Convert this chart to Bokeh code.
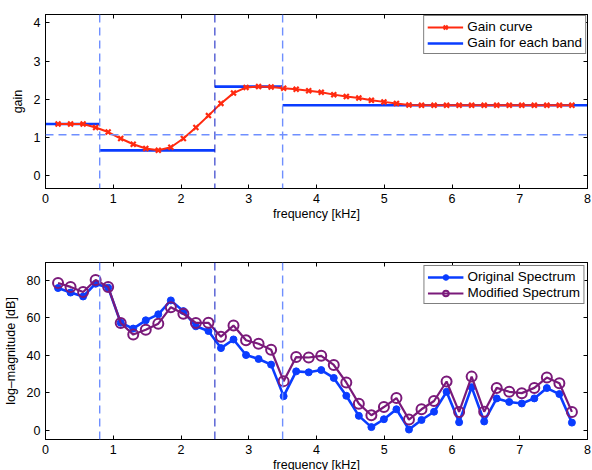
from bokeh.plotting import figure
from bokeh.layouts import column
from bokeh.models import Span, Range1d, LinearAxis, FixedTicker, Legend, LegendItem, ColumnDataSource
from bokeh.embed import file_html
from bokeh.resources import INLINE

# ---------------- data ----------------
freq_khz = [0.185, 0.37, 0.555, 0.74, 0.925, 1.11, 1.295, 1.48, 1.665, 1.85,
            2.035, 2.22, 2.405, 2.59, 2.775, 2.96, 3.145, 3.33, 3.515, 3.7,
            3.885, 4.07, 4.255, 4.44, 4.625, 4.81, 4.995, 5.18, 5.365, 5.55,
            5.735, 5.92, 6.105, 6.29, 6.475, 6.66, 6.845, 7.03, 7.215, 7.4,
            7.585, 7.77]

gain_curve = [1.35, 1.35, 1.35, 1.26, 1.14, 0.97, 0.82, 0.71, 0.66, 0.74,
              0.97, 1.26, 1.57, 1.89, 2.16, 2.31, 2.33, 2.32, 2.29, 2.26,
              2.22, 2.18, 2.12, 2.07, 2.03, 1.97, 1.93, 1.89, 1.85, 1.84,
              1.84, 1.84, 1.84, 1.84, 1.84, 1.84, 1.84, 1.84, 1.84, 1.84,
              1.84, 1.84]

band_start = [0.0, 0.8, 2.5, 3.5]
band_end = [0.8, 2.5, 3.5, 8.0]
band_gain = [1.35, 0.66, 2.33, 1.84]
band_edges_light = [0.8, 3.5]
band_edge_dark = [2.5]
mean_gain = [1.07]

original_db = [75.9, 73.5, 71.4, 78.2, 76.1, 57.4, 54.3, 58.7, 61.9, 69.3,
               63.6, 55.5, 53.0, 43.9, 48.5, 40.2, 38.1, 35.1, 18.3, 31.5,
               31.0, 32.2, 28.0, 18.5, 7.8, 1.8, 6.0, 11.3, 0.5, 5.6,
               10.0, 20.6, 4.4, 23.1, 4.8, 17.1, 15.2, 14.4, 17.1, 22.6,
               19.4, 4.2]

modified_db = [78.6, 76.5, 73.8, 80.2, 76.5, 57.3, 51.1, 53.7, 56.9, 65.7,
               62.2, 57.3, 57.4, 50.0, 55.9, 48.1, 46.2, 43.0, 26.3, 39.1,
               38.9, 39.8, 34.9, 25.6, 14.3, 8.1, 12.5, 17.3, 5.8, 11.3,
               15.7, 26.1, 9.9, 28.7, 10.0, 22.7, 20.6, 19.9, 22.7, 28.2,
               25.2, 9.9]

x_ticks = [0, 1, 2, 3, 4, 5, 6, 7, 8]
gain_ticks = [0, 1, 2, 3, 4]
db_ticks = [0, 20, 40, 60, 80]

FONT = "Liberation Sans"
RED = "#ff2a10"
BLUE = "#0a3cff"
PURPLE = "#7a1a7a"
LIGHT = "#6f8fff"
DARK = "#0a18c0"


def style_axes(p, yticks):
    for ax in p.xaxis + p.yaxis:
        ax.major_label_text_font = FONT
        ax.major_label_text_font_size = "12.5px"
        ax.major_label_text_color = "black"
        ax.axis_label_text_font = FONT
        ax.axis_label_text_font_size = "12.5px"
        ax.axis_label_text_font_style = "normal"
        ax.axis_label_text_color = "black"
        ax.major_tick_in = 4
        ax.major_tick_out = 0
        ax.minor_tick_line_color = None
        ax.axis_line_color = "black"
        ax.major_tick_line_color = "black"
    p.xaxis.ticker = FixedTicker(ticks=x_ticks)
    p.yaxis.ticker = FixedTicker(ticks=yticks)
    p.xaxis.major_label_standoff = 5
    p.yaxis.major_label_standoff = 5
    p.xaxis.axis_label_standoff = 1
    p.yaxis.axis_label_standoff = 6
    # box ticks on right and top, labels not drawn
    ra = LinearAxis(ticker=FixedTicker(ticks=yticks), major_label_text_font_size="1px",
                    major_label_text_color=None,
                    major_tick_in=4, major_tick_out=0, minor_tick_line_color=None,
                    major_label_standoff=0, axis_line_color="black")
    ta = LinearAxis(ticker=FixedTicker(ticks=x_ticks), major_label_text_font_size="1px",
                    major_label_text_color=None,
                    major_tick_in=4, major_tick_out=0, minor_tick_line_color=None,
                    major_label_standoff=0, axis_line_color="black")
    p.add_layout(ra, "right")
    p.add_layout(ta, "above")
    p.xgrid.visible = False
    p.ygrid.visible = False
    p.outline_line_color = "black"
    p.background_fill_color = "white"
    p.border_fill_color = "white"


# ---------------- top: gain ----------------
p1 = figure(frame_width=542, frame_height=174, output_backend="svg", toolbar_location=None,
            x_range=Range1d(0, 8), y_range=Range1d(-0.34, 4.22),
            min_border_left=44, min_border_right=6, min_border_top=14, min_border_bottom=52)
p1.xaxis.axis_label = "frequency [kHz]"
p1.yaxis.axis_label = "gain"
style_axes(p1, gain_ticks)

for xe in band_edges_light:
    p1.add_layout(Span(location=xe, dimension="height", line_color=LIGHT, line_dash="8 5", line_width=1.4))
for xe in band_edge_dark:
    p1.add_layout(Span(location=xe, dimension="height", line_color=DARK, line_dash="8 5", line_width=1))
for yv in mean_gain:
    p1.add_layout(Span(location=yv, dimension="width", line_color=LIGHT, line_dash="8 5", line_width=1.4))

bsrc = ColumnDataSource(dict(x0=band_start, x1=band_end, y=band_gain))
rb = p1.segment(x0="x0", y0="y", x1="x1", y1="y", source=bsrc, line_color=BLUE, line_width=2.6)

gsrc = ColumnDataSource(dict(x=freq_khz, y=gain_curve))
rgl = p1.line("x", "y", source=gsrc, line_color=RED, line_width=2)
rgm = p1.scatter("x", "y", source=gsrc, marker="x", size=7, line_color=RED, line_width=2.2)

leg1 = Legend(items=[LegendItem(label="Gain curve", renderers=[rgl, rgm]),
                     LegendItem(label="Gain for each band", renderers=[rb])],
              location="top_right")
p1.add_layout(leg1, "center")

# ---------------- bottom: spectrum ----------------
p2 = figure(frame_width=542, frame_height=177, output_backend="svg", toolbar_location=None,
            x_range=Range1d(0, 8), y_range=Range1d(-4.8, 89.5),
            min_border_left=44, min_border_right=6, min_border_top=22, min_border_bottom=31)
p2.xaxis.axis_label = "frequency [kHz]"
p2.yaxis.axis_label = "log\u2013magnitude [dB]"
style_axes(p2, db_ticks)

for xe in band_edges_light:
    p2.add_layout(Span(location=xe, dimension="height", line_color=LIGHT, line_dash="8 5", line_width=1.4))
for xe in band_edge_dark:
    p2.add_layout(Span(location=xe, dimension="height", line_color=DARK, line_dash="8 5", line_width=1))

ssrc = ColumnDataSource(dict(x=freq_khz, o=original_db, m=modified_db))
rol = p2.line("x", "o", source=ssrc, line_color=BLUE, line_width=2.6)
rom = p2.scatter("x", "o", source=ssrc, marker="circle", size=7, fill_color=BLUE, line_color=BLUE)
rml = p2.line("x", "m", source=ssrc, line_color=PURPLE, line_width=2.2)
rmm = p2.scatter("x", "m", source=ssrc, marker="circle", size=10, fill_color=None,
                 line_color=PURPLE, line_width=2)

leg2 = Legend(items=[LegendItem(label="Original Spectrum", renderers=[rol, rom]),
                     LegendItem(label="Modified Spectrum", renderers=[rml, rmm])],
              location="top_right")
p2.add_layout(leg2, "center")

for lg in (leg1, leg2):
    lg.label_text_font = FONT
    lg.label_text_font_size = "13.5px"
    lg.label_text_color = "black"
    lg.border_line_color = "black"
    lg.border_line_width = 1.5
    lg.background_fill_color = "white"
    lg.background_fill_alpha = 1
    lg.glyph_width = 36
    lg.glyph_height = 14
    lg.label_height = 14
    lg.spacing = 1
    lg.padding = 3
    lg.label_standoff = 4
leg1.margin = 1
leg2.margin = 3

layout = column(p1, p2, spacing=0)
open("out.html", "w").write(file_html(layout, INLINE))
